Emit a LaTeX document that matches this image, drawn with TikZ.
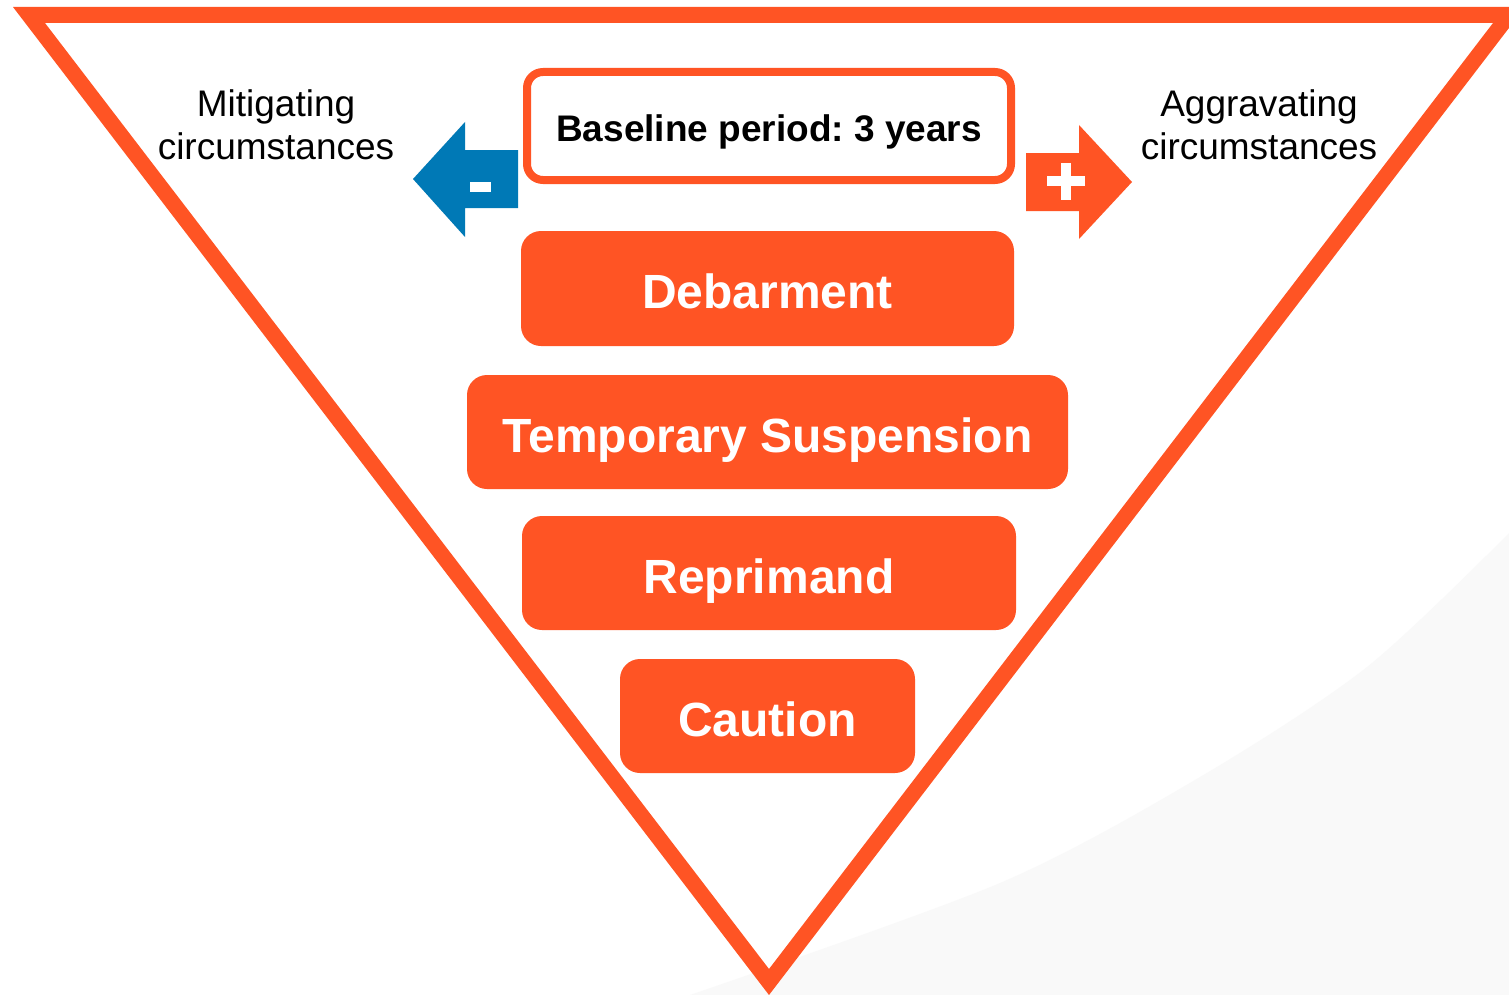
\documentclass[tikz,border=0pt]{standalone}
\usepackage{fontspec}
\setmainfont{Liberation Sans}
\frenchspacing
\definecolor{org}{HTML}{FF5424}
\definecolor{blu}{HTML}{0079B6}
\definecolor{bgshade}{HTML}{F9F9F9}
\begin{document}
\begin{tikzpicture}[x=0.5pt,y=-0.5pt,
  level/.style={fill=org,rounded corners=10pt,inner sep=0pt,text=white,
    text height=20.2pt,text depth=0pt,
    font=\fontsize{24}{28}\selectfont\bfseries},
  base/.style={draw=org,line width=4pt,fill=white,rounded corners=8pt,inner sep=0pt,
    text height=15.4pt,text depth=0pt,
    font=\fontsize{18.5}{22}\selectfont\bfseries},
  lab/.style={align=center,inner sep=0pt,font=\fontsize{18.5}{21.5}\selectfont}]
\useasboundingbox (0,0) rectangle (1509,995);
\fill[white] (0,0) rectangle (1509,995);
\fill[bgshade] plot[smooth] coordinates {(690,995) (1000,883) (1200,777) (1367,667) (1509,533)} -- (1509,995) -- cycle;
% triangle frame
\fill[org,even odd rule] (13,7) -- (1525,7) -- (769,995) -- cycle
  (45,23) -- (1493,23) -- (769,969) -- cycle;
% baseline box
\node[base,minimum width=242pt,minimum height=54pt] (baseline) at (769,126) {Baseline period: 3 years};
% levels
\node[level,minimum width=246.5pt,minimum height=57.5pt] (debar) at (767.5,288.5) {Debarment};
\node[level,minimum width=300.5pt,minimum height=57pt] (temp) at (767.5,432) {Temporary Suspension};
\node[level,minimum width=247pt,minimum height=57pt] (repr) at (769,573) {Reprimand};
\node[level,minimum width=147.5pt,minimum height=57pt] (caut) at (767.5,716) {Caution};
% minus arrow
\fill[blu] (413,179) -- (465,122) -- (465,150) -- (518,150) -- (518,208) -- (465,208) -- (465,237) -- cycle;
\fill[white] (470,182) rectangle (491,192);
% plus arrow
\fill[org] (1132,182) -- (1079,125) -- (1079,153) -- (1026,153) -- (1026,211) -- (1079,211) -- (1079,239) -- cycle;
\fill[white] (1047,176) rectangle (1085,186);
\fill[white] (1061,163) rectangle (1071,200);
% labels
\node[lab] (mit) at (276,125) {Mitigating\\circumstances};
\node[lab] (agg) at (1259,125) {Aggravating\\circumstances};
\end{tikzpicture}
\end{document}
